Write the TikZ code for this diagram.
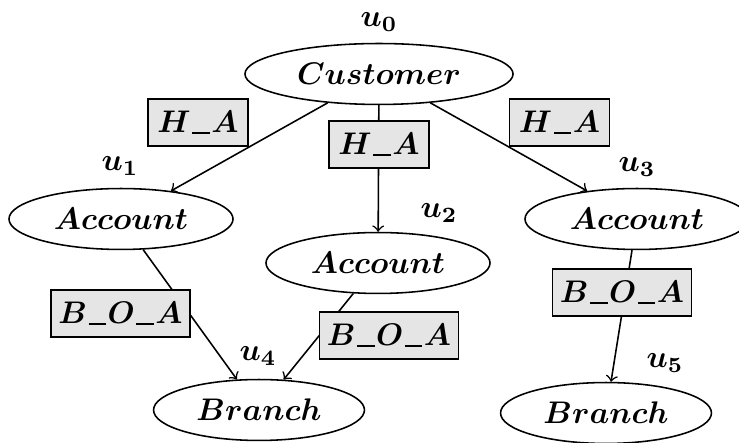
\documentclass[tikz,border=0pt]{standalone}
\usepackage{amsmath,bm}
\usetikzlibrary{shapes.geometric}
% short, heavy underscore joining the letters of a relation name
\newcommand\usc{\kern0.5pt\rule[-0.6pt]{5.6pt}{0.75pt}\kern0.5pt}
\begin{document}
\begin{tikzpicture}[x=0.32pt,y=-0.32pt,
  ent/.style={draw, ellipse, inner sep=0pt, minimum height=19.5pt},
  rel/.style={draw, fill=black!10, inner sep=0pt, minimum height=15pt},
  tag/.style={inner sep=0pt},
  every node/.style={font=\boldmath},
  line width=0.5pt,
  link/.style={->}]
\useasboundingbox (0,0) rectangle (739,443);
% entity nodes
\node[ent, minimum width=85.8pt] (cust) at (379,74) {$Customer$};
\node[ent, minimum width=71.7pt] (a1) at (121,219) {$Account$};
\node[ent, minimum width=71.7pt] (a2) at (378,263) {$Account$};
\node[ent, minimum width=71.7pt] (a3) at (637,219) {$Account$};
\node[ent, minimum width=67.5pt] (b4) at (259,410) {$Branch$};
\node[ent, minimum width=67.5pt] (b5) at (606,413) {$Branch$};
% variable tags
\node[tag] (t0) at (379,22) {$u_0$};
\node[tag] (t1) at (120,166) {$u_1$};
\node[tag] (t2) at (439,213) {$u_2$};
\node[tag] (t3) at (637,167) {$u_3$};
\node[tag] (t4) at (258,356) {$u_4$};
\node[tag] (t5) at (665,363) {$u_5$};
% connectors
\draw[link] (cust) -- (a1);
\draw[link] (cust) -- (a2);
\draw[link] (cust) -- (a3);
\draw[link] (a1) -- (b4);
\draw[link] (a2) -- (b4);
\draw[link] (a3) -- (b5);
% relation boxes
\node[rel, minimum width=32pt] (r1) at (198,122.5) {$H$\usc$A$};
\node[rel, minimum width=32pt] (r2) at (379,144.5) {$H$\usc$A$};
\node[rel, minimum width=32pt] (r3) at (559.5,122.5) {$H$\usc$A$};
\node[rel, minimum width=44.5pt] (r4) at (120.5,313.5) {$B$\usc$O$\usc$A$};
\node[rel, minimum width=44.5pt] (r5) at (389,335.5) {$B$\usc$O$\usc$A$};
\node[rel, minimum width=44.5pt] (r6) at (622,292.5) {$B$\usc$O$\usc$A$};
\end{tikzpicture}
\end{document}
